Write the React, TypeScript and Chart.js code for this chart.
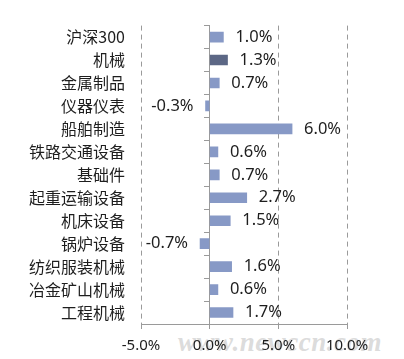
import React, { useEffect, useRef } from "react";
import { Chart, registerables } from "chart.js";

Chart.register(...registerables);

const categories = [
  "沪深300",
  "机械",
  "金属制品",
  "仪器仪表",
  "船舶制造",
  "铁路交通设备",
  "基础件",
  "起重运输设备",
  "机床设备",
  "锅炉设备",
  "纺织服装机械",
  "冶金矿山机械",
  "工程机械",
];
const changes = [1.0, 1.3, 0.7, -0.3, 6.0, 0.6, 0.7, 2.7, 1.5, -0.7, 1.6, 0.6, 1.7];
const highlightCategory = "机械";
const xMin = -5;
const xMax = 10;
const xStep = 5;

const BAR = "#8799c6";
const BAR_DARK = "#5c6785";
const GRID = "#9a9a9a";
const TEXT = "#1e1e1e";

const fmt = (v: number) => v.toFixed(1) + "%";

const labelPlugin = {
  id: "barLabels",
  afterDatasetsDraw(chart: any) {
    const ctx = chart.ctx;
    const meta = chart.getDatasetMeta(0);
    ctx.save();
    ctx.font = '16.5px "Noto Sans"';
    ctx.fillStyle = TEXT;
    ctx.textBaseline = "middle";
    meta.data.forEach((bar: any, i: number) => {
      const v = changes[i];
      if (v >= 0) {
        ctx.textAlign = "left";
        ctx.fillText(fmt(v), bar.x + 12, bar.y);
      } else {
        ctx.textAlign = "right";
        ctx.fillText(fmt(v), bar.x - 12, bar.y);
      }
    });
    ctx.restore();
  },
};

export default function App() {
  const ref = useRef<HTMLCanvasElement>(null);
  useEffect(() => {
    if (!ref.current) return;
    const chart = new Chart(ref.current, {
      type: "bar",
      data: {
        labels: categories,
        datasets: [
          {
            data: changes,
            backgroundColor: categories.map((c) => (c === highlightCategory ? BAR_DARK : BAR)),
            barThickness: 10,
            yAxisID: "y",
          },
        ],
      },
      options: {
        indexAxis: "y",
        responsive: false,
        animation: false,
        layout: { padding: { top: 16, right: 57, left: 0, bottom: 0 } },
        plugins: { legend: { display: false }, tooltip: { enabled: false } },
        scales: {
          x: {
            type: "linear",
            min: xMin,
            max: xMax,
            ticks: {
              stepSize: xStep,
              callback: (v: any) => fmt(Number(v)),
              color: TEXT,
              font: { family: '"Noto Sans"', size: 15 },
              padding: 8,
            },
            grid: {
              color: GRID,
              lineWidth: 1,
              drawTicks: true,
              tickLength: 5,
            },
            border: {
              display: true,
              color: GRID,
              dash: (ctx: any) =>
                ctx.type === "tick" && ctx.tick && ctx.tick.value !== 0 ? [5, 4] : [],
            },
            afterFit: (s: any) => {
              s.height = 35;
            },
          },
          y: {
            type: "category",
            position: "left",
            offset: true,
            grid: { display: false, drawTicks: false },
            border: { display: false },
            ticks: {
              color: TEXT,
              font: { family: '"Noto Sans CJK SC"', size: 16 },
              padding: 16,
            },
            afterFit: (s: any) => {
              s.width = 141;
            },
          },
          y2: {
            type: "category",
            position: { x: 0 },
            offset: true,
            grid: {
              offset: true,
              drawOnChartArea: false,
              drawTicks: true,
              tickLength: 5,
              color: GRID,
            },
            border: { display: true, color: GRID },
            ticks: { display: false },
          },
        } as any,
      },
      plugins: [labelPlugin],
    } as any);
    return () => chart.destroy();
  }, []);

  return (
    <div style={{ position: "absolute", left: 0, top: 0, width: 404, height: 359, background: "#fff" }}>
      <div
        style={{
          position: "absolute",
          left: 178,
          top: 327,
          font: 'italic bold 27px "Liberation Serif"',
          color: "rgba(190,190,190,0.55)",
          whiteSpace: "nowrap",
          letterSpacing: 0.5,
        }}
      >
        www.newccn.com
      </div>
      <canvas ref={ref} width={404} height={359} style={{ position: "absolute", left: 0, top: 0 }} />
    </div>
  );
}
